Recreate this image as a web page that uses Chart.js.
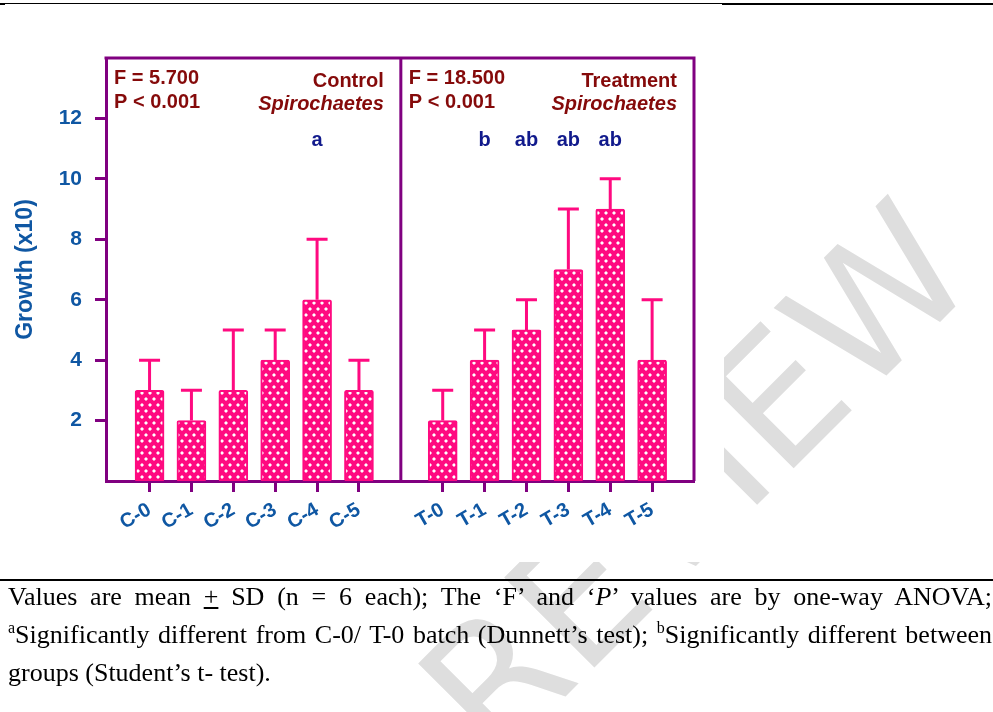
<!DOCTYPE html>
<html>
<head>
<meta charset="utf-8">
<script src="https://cdn.jsdelivr.net/npm/chart.js@4.4.1/dist/chart.umd.min.js"></script>
<style>
  html, body { margin: 0; padding: 0; background: #fff; width: 993px; height: 712px; overflow: hidden; }
  #wm { position: absolute; left: 0; top: 0; z-index: 0; }
  #chartBox { position: absolute; left: 0; top: 0; width: 724px; height: 562px; background: #fff; z-index: 1; }
  .rule { position: absolute; background: #000; z-index: 3; }
  #note { position: absolute; left: 8px; top: 578px; width: 984px; z-index: 2;
          font-family: "Liberation Serif", "Times New Roman", serif; font-size: 26px; color: #000; }
  #note div { line-height: 38px; white-space: nowrap; }
  #note .just { text-align: justify; text-align-last: justify; }
  #note sup { font-size: 16px; line-height: 0; }
</style>
</head>
<body>
<canvas id="wm" width="993" height="712"></canvas>
<div class="rule" style="left:0;top:3px;width:722px;height:1px;"></div>
<div class="rule" style="left:722px;top:3px;width:271px;height:2px;"></div>
<div class="rule" style="left:0;top:3px;width:5px;height:2px;"></div>
<div id="chartBox"><canvas id="myChart" width="724" height="562"></canvas></div>
<div class="rule" style="left:0;top:579px;width:993px;height:2px;"></div>
<div id="note">
  <div class="just">Values are mean <u>+</u> SD (n = 6 each); The ‘F’ and ‘<i>P</i>’ values are by one-way ANOVA;</div>
  <div class="just"><sup>a</sup>Significantly different from C-0/ T-0 batch (Dunnett’s test); <sup>b</sup>Significantly different between</div>
  <div>groups (Student’s t- test).</div>
</div>
<script>
const categories = ["C-0", "C-1", "C-2", "C-3", "C-4", "C-5", "T-0", "T-1", "T-2", "T-3", "T-4", "T-5"];
// slot 6 is the empty gap between the control and treatment panels
const slots = [0, 1, 2, 3, 4, 5, 7, 8, 9, 10, 11, 12];
const means = [3, 2, 3, 4, 6, 3, 2, 4, 5, 7, 9, 4];
const sds = [1, 1, 2, 1, 2, 1, 1, 1, 1, 2, 1, 2];
const letters = ["", "", "", "", "a", "", "", "b", "ab", "ab", "ab", ""];
const yTicks = [2, 4, 6, 8, 10, 12];
const panels = [
  { f: "F = 5.700", p: "P < 0.001", name: "Control" },
  { f: "F = 18.500", p: "P < 0.001", name: "Treatment" },
];

const PINK = "#ff0a80";
const PURPLE = "#800080";
const BLUE = "#0f57a3";
const MAROON = "#850a0a";
const NAVY = "#111a8c";
const SANS = "'Liberation Sans', Arial, sans-serif";

// watermark behind the figure
(function () {
  const w = document.getElementById("wm").getContext("2d");
  w.save();
  w.translate(140, 1122);
  w.rotate(-Math.PI / 4);
  w.fillStyle = "#dedede";
  w.font = "175px 'DejaVu Sans'";
  w.fillText("PEER REVIEW", 0, 0);
  w.restore();
})();

function makePattern() {
  const c = document.createElement("canvas");
  c.width = 8;
  c.height = 12;
  const g = c.getContext("2d");
  g.fillStyle = PINK;
  g.fillRect(0, 0, 8, 12);
  g.fillStyle = "#fff";
  [[2, 3], [6, 9]].forEach(([x, y]) => {
    g.beginPath();
    g.moveTo(x, y - 2);
    g.lineTo(x + 2, y);
    g.lineTo(x, y + 2);
    g.lineTo(x - 2, y);
    g.closePath();
    g.fill();
  });
  return g.createPattern(c, "repeat");
}

const extras = {
  id: "extras",
  afterDatasetsDraw(chart) {
    const { ctx, chartArea: a, scales: { x, y } } = chart;
    ctx.save();
    // error bars (upper only)
    ctx.strokeStyle = PINK;
    ctx.lineWidth = 3;
    means.forEach((m, i) => {
      const px = x.getPixelForValue(slots[i]);
      const top = y.getPixelForValue(m + sds[i]);
      ctx.beginPath();
      ctx.moveTo(px, y.getPixelForValue(m));
      ctx.lineTo(px, top);
      ctx.moveTo(px - 10.5, top);
      ctx.lineTo(px + 10.5, top);
      ctx.stroke();
    });
    // frame: top, right and divider
    const mid = x.getPixelForValue(6);
    ctx.strokeStyle = PURPLE;
    ctx.lineWidth = 3;
    ctx.beginPath();
    ctx.moveTo(a.left - 1.5, a.top);
    ctx.lineTo(a.right, a.top);
    ctx.lineTo(a.right, a.bottom);
    ctx.moveTo(mid, a.top);
    ctx.lineTo(mid, a.bottom);
    ctx.stroke();
    // significance letters
    ctx.fillStyle = NAVY;
    ctx.font = "bold 20px " + SANS;
    ctx.textAlign = "center";
    ctx.textBaseline = "alphabetic";
    letters.forEach((t, i) => {
      if (t) ctx.fillText(t, x.getPixelForValue(slots[i]), a.top + 88);
    });
    // panel headers
    const bounds = [[a.left, mid], [mid, a.right]];
    panels.forEach((p, k) => {
      const [l, r] = bounds[k];
      ctx.fillStyle = MAROON;
      ctx.textAlign = "left";
      ctx.font = "bold 20px " + SANS;
      ctx.fillText(p.f, l + 8, a.top + 25.5);
      ctx.fillText(p.p, l + 8, a.top + 49.5);
      ctx.textAlign = "right";
      ctx.fillText(p.name, r - 17, a.top + 28.5);
      ctx.font = "italic bold 20px " + SANS;
      ctx.fillText("Spirochaetes", r - 17, a.top + 51.5);
    });
    ctx.restore();
  },
};

const ctx = document.getElementById("myChart");

new Chart(ctx, {
  type: "bar",
  data: {
    datasets: [
      {
        data: slots.map((s, i) => ({ x: s, y: means[i] })),
        backgroundColor: makePattern(),
        borderColor: PINK,
        borderWidth: 2,
        borderRadius: 2,
        borderSkipped: false,
        barThickness: 29,
      },
    ],
  },
  options: {
    responsive: false,
    animation: false,
    layout: { padding: { top: 58, right: 30, left: 0, bottom: 0 } },
    plugins: {
      legend: { display: false },
      tooltip: { enabled: false },
    },
    scales: {
      x: {
        type: "linear",
        offset: false,
        min: -1.04,
        max: 13,
        afterFit: (s) => { s.height = 81; },
        afterBuildTicks: (s) => { s.ticks = slots.map((v) => ({ value: v })); },
        grid: {
          display: true,
          offset: false,
          drawOnChartArea: false,
          drawTicks: true,
          tickLength: 11,
          tickWidth: 3,
          tickColor: PURPLE,
        },
        border: { display: true, color: PURPLE, width: 3 },
        ticks: {
          autoSkip: false,
          minRotation: 30,
          maxRotation: 30,
          padding: 6,
          color: BLUE,
          font: { size: 20, weight: "bold", family: SANS },
          callback: (v) => categories[slots.indexOf(v)],
        },
      },
      y: {
        min: 0,
        max: 14,
        afterFit: (s) => { s.width = 106; },
        afterBuildTicks: (s) => { s.ticks = yTicks.map((v) => ({ value: v })); },
        grid: {
          display: true,
          drawOnChartArea: false,
          drawTicks: true,
          tickLength: 11,
          tickWidth: 3,
          tickColor: PURPLE,
        },
        border: { display: true, color: PURPLE, width: 3 },
        ticks: {
          padding: 13,
          color: BLUE,
          font: { size: 21, weight: "bold", family: SANS },
        },
        title: {
          display: true,
          text: "Growth (x10)",
          color: BLUE,
          padding: { top: 12, bottom: 0 },
          font: { size: 23, weight: "bold", family: SANS },
        },
      },
    },
  },
  plugins: [extras],
});
</script>
</body>
</html>
